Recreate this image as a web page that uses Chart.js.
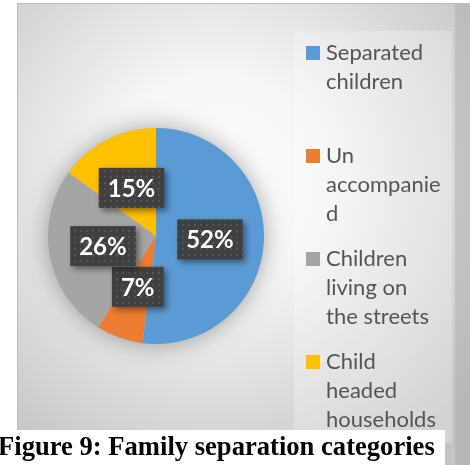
<!DOCTYPE html>
<html>
<head>
<meta charset="utf-8">
<script src="https://cdn.jsdelivr.net/npm/chart.js@4.4.1/dist/chart.umd.min.js"></script>
<style>
  body { margin: 0; background: #fff; }
  canvas { display: block; }
</style>
</head>
<body>
<canvas id="graphique-separation" width="470" height="465"></canvas>
<script>
const categories = [
    ["Separated", "children"],
    ["Un", "accompanie", "d"],
    ["Children", "living on", "the streets"],
    ["Child", "headed", "households"]
];
const pourcentages = [52, 7, 26, 15];
const couleurs = ["#5B9BD5", "#ED7D31", "#A5A5A5", "#FFC000"];
const legende = "Figure 9: Family separation categories";

// petit motif de points pour les étiquettes
function motifPoints(ctx) {
    const c = document.createElement("canvas");
    c.width = 6; c.height = 6;
    const p = c.getContext("2d");
    p.fillStyle = "#404040";
    p.fillRect(0, 0, 6, 6);
    p.fillStyle = "#545454";
    p.fillRect(2, 2, 2, 2);
    return ctx.createPattern(c, "repeat");
}

const fond = {
    id: "fond",
    beforeDraw(chart) {
        const { ctx, width, height } = chart;
        ctx.save();
        ctx.fillStyle = "#fff";
        ctx.fillRect(0, 0, width, height);

        const g = ctx.createRadialGradient(215, 180, 10, 215, 180, 330);
        g.addColorStop(0, "#ffffff");
        g.addColorStop(0.3, "#f6f6f6");
        g.addColorStop(1, "#c4c4c4");
        ctx.fillStyle = g;
        ctx.fillRect(17, 3, width - 17, height - 3);
        ctx.strokeStyle = "#bcbcbc";
        ctx.lineWidth = 1;
        ctx.strokeRect(17.5, 3.5, width, height);

        ctx.fillStyle = "rgba(170,170,170,0.45)";
        ctx.fillRect(455, 4, 15, height);

        ctx.fillStyle = "rgba(255,255,255,0.25)";
        ctx.fillRect(294, 31, 158, 412);

        // ombre douce autour du camembert
        const arc = chart.getDatasetMeta(0).data[0];
        ctx.shadowColor = "rgba(0,0,0,0.35)";
        ctx.shadowBlur = 24;
        ctx.fillStyle = "#bbb";
        ctx.beginPath();
        ctx.arc(arc.x, arc.y, arc.outerRadius, 0, Math.PI * 2);
        ctx.fill();
        ctx.restore();
    }
};

const etiquettes = {
    id: "etiquettes",
    afterDatasetsDraw(chart) {
        const { ctx } = chart;
        const motif = motifPoints(ctx);
        const arcs = chart.getDatasetMeta(0).data;
        ctx.save();
        ctx.font = "bold 24px Lato";
        ctx.textAlign = "center";
        ctx.textBaseline = "middle";
        for (let i = 0; i < arcs.length; i++) {
            const pos = arcs[i].tooltipPosition();
            const txt = `${pourcentages[i]}%`;
            const w = ctx.measureText(txt).width + 18;
            const h = 40;
            ctx.save();
            ctx.shadowColor = "rgba(0,0,0,0.45)";
            ctx.shadowBlur = 6;
            ctx.shadowOffsetX = 3;
            ctx.shadowOffsetY = 3;
            ctx.fillStyle = motif;
            ctx.fillRect(pos.x - w / 2, pos.y - h / 2, w, h);
            ctx.restore();
            ctx.fillStyle = "#fff";
            ctx.fillText(txt, pos.x, pos.y + 1);
        }
        ctx.restore();
    },
    afterDraw(chart) {
        const { ctx } = chart;
        const couleursArc = chart.data.datasets[0].backgroundColor;
        ctx.save();
        ctx.textBaseline = "middle";
        ctx.font = "22px Lato";
        for (let i = 0; i < categories.length; i++) {
            const y0 = 53 + i * 103;
            ctx.fillStyle = couleursArc[i];
            ctx.fillRect(306, y0 - 7, 14, 14);
            ctx.fillStyle = "#555555";
            categories[i].forEach((ligne, j) => ctx.fillText(ligne, 326, y0 + j * 29));
        }

        ctx.fillStyle = "#fff";
        ctx.fillRect(0, 430, 445, 35);
        ctx.fillStyle = "#000";
        ctx.textBaseline = "alphabetic";
        ctx.font = "bold 26.6px 'Liberation Serif'";
        ctx.fillText(legende, -2, 455);
        ctx.restore();
    }
};

const data = {
    labels: categories,
    datasets: [{
        data: pourcentages,
        backgroundColor: couleurs,
        borderWidth: 0,
    }]
};

const config = {
    type: "pie",
    data: data,
    options: {
        responsive: false,
        animation: false,
        layout: { padding: { left: 48, right: 206, top: 128, bottom: 121 } },
        plugins: {
            legend: { display: false },
            tooltip: { enabled: false },
        },
    },
    plugins: [fond, etiquettes],
};

const graph = new Chart(document.querySelector("#graphique-separation"), config);
</script>
</body>
</html>
